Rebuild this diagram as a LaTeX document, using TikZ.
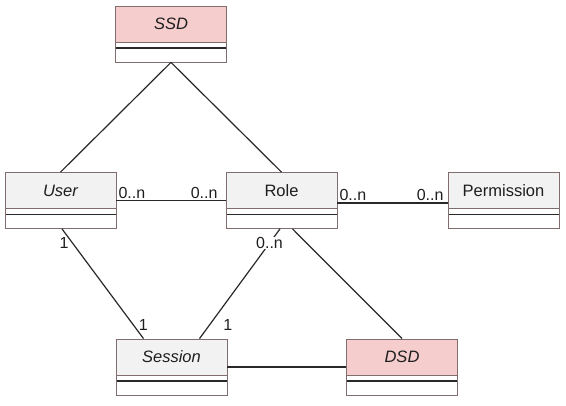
\documentclass[tikz,border=0pt]{standalone}
\usepackage{fontspec}
\setmainfont{Liberation Sans}
\usetikzlibrary{positioning}
\usepackage{xcolor}
\definecolor{umlborder}{RGB}{128,110,110}
\definecolor{umlgray}{RGB}{242,242,242}
\definecolor{umlpink}{RGB}{245,205,205}
\definecolor{umldark}{RGB}{40,40,40}
\definecolor{umltext}{RGB}{30,30,30}

\begin{document}
\begin{tikzpicture}[x=1pt,y=-1pt,
  classbox/.style={draw=umlborder, line width=0.8pt, fill=white,
    minimum width=111pt, minimum height=56pt, inner sep=0pt,
    text height=24pt, text depth=32pt, text=umltext,
    font=\fontsize{16.5}{19}\selectfont,
    path picture={
      \fill[#1] (path picture bounding box.north west) rectangle ([yshift=-36pt]path picture bounding box.north east);
      \draw[umlborder, line width=0.6pt] ([yshift=-36pt]path picture bounding box.north west) -- ([yshift=-36pt]path picture bounding box.north east);
      \draw[umldark, line width=1.3pt] ([yshift=-42pt]path picture bounding box.north west) -- ([yshift=-42pt]path picture bounding box.north east);
    }},
  classbox/.default=umlgray,
  assoc/.style={draw=umldark, line width=1.2pt},
  mult/.style={font=\fontsize{16}{18}\selectfont, text=umltext, inner sep=1.5pt}]
  \useasboundingbox (0,0) rectangle (566,406);
  \node (ssd)  [classbox=umlpink, font=\fontsize{16.5}{19}\selectfont\itshape] at (171,34) {SSD};
  \node (user) [classbox, font=\fontsize{16.5}{19}\selectfont\itshape] at (60.5,200.5) {User};
  \node (role) [classbox] at (281.5,200.5) {Role};
  \node (perm) [classbox] at (503.5,200.5) {Permission};
  \node (sess) [classbox, font=\fontsize{16.5}{19}\selectfont\itshape] at (171.5,367) {Session};
  \node (dsd)  [classbox=umlpink, font=\fontsize{16.5}{19}\selectfont\itshape] at (402,367) {DSD};
  \draw[assoc] (ssd.south) -- (user.north);
  \draw[assoc] (ssd.south) -- (role.north);
  \draw[assoc] (user) -- node (mur1) [mult, pos=0, anchor=south west] {0..n}
                         node (mur2) [mult, pos=1, anchor=south east, xshift=-6pt] {0..n} (role);
  \draw[assoc] ([yshift=-2.5pt]role.east) -- node (mrp1) [mult, pos=0, anchor=south west] {0..n}
                         node (mrp2) [mult, pos=1, anchor=south east, xshift=-2pt] {0..n} ([yshift=-2.5pt]perm.west);
  \draw[assoc] ([xshift=1.5pt]user.south) -- node (mus1) [mult, pos=0.13, anchor=east, xshift=-2pt] {1}
                         node (mus2) [mult, pos=0.88, anchor=west, xshift=3pt] {1} ([xshift=-28pt]sess.north);
  \draw[assoc] ([xshift=-1.5pt]role.south) -- node (mrs1) [mult, pos=0.13, fill=white, inner sep=0.5pt] {0..n}
                         node (mrs2) [mult, pos=0.88, anchor=west, xshift=12pt] {1} ([xshift=28pt]sess.north);
  \draw[assoc] ([xshift=11pt]role.south) -- (dsd.north);
  \draw[assoc] (sess) -- (dsd);
\end{tikzpicture}
\end{document}
